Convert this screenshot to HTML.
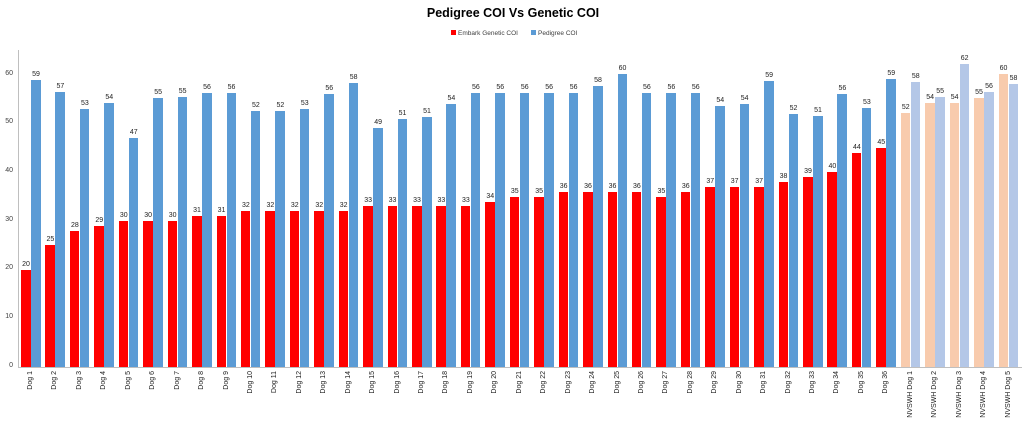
<!DOCTYPE html>
<html><head><meta charset="utf-8"><style>
body{margin:0;width:1024px;height:422px;background:#fff;font-family:"Liberation Sans",sans-serif;overflow:hidden;position:relative}
.t{position:absolute;left:0;width:1026px;top:6px;text-align:center;font-weight:bold;font-size:12.5px;color:#000}
.lg{position:absolute;top:30px;font-size:6.5px;color:#404040}
.lg b{display:inline-block;width:5px;height:5px;margin-right:2px;vertical-align:-0px}
.ax{position:absolute;left:18px;top:50px;width:1px;height:317px;background:#bfbfbf}
.xa{position:absolute;left:18px;top:367px;width:1004px;height:1px;background:#bfbfbf}
.yl{position:absolute;left:0;width:13px;text-align:right;font-size:7px;color:#404040}
.p{position:absolute;left:21px;top:0;height:367px;display:flex;align-items:flex-end}
.c{width:24.45px;height:367px;position:relative;display:flex;align-items:flex-end}
.r,.b{width:9.5px;position:relative}
.r{height:calc(var(--r)*4.867px);background:#f00;margin-right:.5px}
.b{height:calc(var(--b)*4.867px);background:#5b9bd5}
.n .r{background:#f8cbad}.n .b{background:#b4c7e7}
.r span,.b span{position:absolute;bottom:100%;left:-4px;width:18px;text-align:center;font-size:7px;color:#222;margin-bottom:2px}
.c i{position:absolute;top:371px;left:6px;font-style:normal;font-size:7px;color:#222;writing-mode:vertical-rl;transform:rotate(180deg);white-space:nowrap}
</style></head><body>
<div class="t">Pedigree COI Vs Genetic COI</div>
<div class="lg" style="left:451px"><b style="background:#f00"></b>Embark Genetic COI</div>
<div class="lg" style="left:531px"><b style="background:#5b9bd5"></b>Pedigree COI</div>
<div class="ax"></div><div class="xa"></div>
<div class="yl" style="top:362px">0</div>
<div class="yl" style="top:313px">10</div>
<div class="yl" style="top:264px">20</div>
<div class="yl" style="top:216px">30</div>
<div class="yl" style="top:167px">40</div>
<div class="yl" style="top:118px">50</div>
<div class="yl" style="top:70px">60</div>
<div class="p">
<div class="c" style="--r:20;--b:59"><div class="r"><span>20</span></div><div class="b"><span>59</span></div><i>Dog 1</i></div>
<div class="c" style="--r:25;--b:56.6"><div class="r"><span>25</span></div><div class="b"><span>57</span></div><i>Dog 2</i></div>
<div class="c" style="--r:28;--b:53"><div class="r"><span>28</span></div><div class="b"><span>53</span></div><i>Dog 3</i></div>
<div class="c" style="--r:29;--b:54.2"><div class="r"><span>29</span></div><div class="b"><span>54</span></div><i>Dog 4</i></div>
<div class="c" style="--r:30;--b:47"><div class="r"><span>30</span></div><div class="b"><span>47</span></div><i>Dog 5</i></div>
<div class="c" style="--r:30;--b:55.2"><div class="r"><span>30</span></div><div class="b"><span>55</span></div><i>Dog 6</i></div>
<div class="c" style="--r:30;--b:55.4"><div class="r"><span>30</span></div><div class="b"><span>55</span></div><i>Dog 7</i></div>
<div class="c" style="--r:31;--b:56.2"><div class="r"><span>31</span></div><div class="b"><span>56</span></div><i>Dog 8</i></div>
<div class="c" style="--r:31;--b:56.2"><div class="r"><span>31</span></div><div class="b"><span>56</span></div><i>Dog 9</i></div>
<div class="c" style="--r:32;--b:52.5"><div class="r"><span>32</span></div><div class="b"><span>52</span></div><i>Dog 10</i></div>
<div class="c" style="--r:32;--b:52.5"><div class="r"><span>32</span></div><div class="b"><span>52</span></div><i>Dog 11</i></div>
<div class="c" style="--r:32;--b:53"><div class="r"><span>32</span></div><div class="b"><span>53</span></div><i>Dog 12</i></div>
<div class="c" style="--r:32;--b:56"><div class="r"><span>32</span></div><div class="b"><span>56</span></div><i>Dog 13</i></div>
<div class="c" style="--r:32;--b:58.3"><div class="r"><span>32</span></div><div class="b"><span>58</span></div><i>Dog 14</i></div>
<div class="c" style="--r:33;--b:49.2"><div class="r"><span>33</span></div><div class="b"><span>49</span></div><i>Dog 15</i></div>
<div class="c" style="--r:33;--b:51"><div class="r"><span>33</span></div><div class="b"><span>51</span></div><i>Dog 16</i></div>
<div class="c" style="--r:33;--b:51.3"><div class="r"><span>33</span></div><div class="b"><span>51</span></div><i>Dog 17</i></div>
<div class="c" style="--r:33;--b:54"><div class="r"><span>33</span></div><div class="b"><span>54</span></div><i>Dog 18</i></div>
<div class="c" style="--r:33;--b:56.2"><div class="r"><span>33</span></div><div class="b"><span>56</span></div><i>Dog 19</i></div>
<div class="c" style="--r:34;--b:56.2"><div class="r"><span>34</span></div><div class="b"><span>56</span></div><i>Dog 20</i></div>
<div class="c" style="--r:35;--b:56.2"><div class="r"><span>35</span></div><div class="b"><span>56</span></div><i>Dog 21</i></div>
<div class="c" style="--r:35;--b:56.2"><div class="r"><span>35</span></div><div class="b"><span>56</span></div><i>Dog 22</i></div>
<div class="c" style="--r:36;--b:56.2"><div class="r"><span>36</span></div><div class="b"><span>56</span></div><i>Dog 23</i></div>
<div class="c" style="--r:36;--b:57.8"><div class="r"><span>36</span></div><div class="b"><span>58</span></div><i>Dog 24</i></div>
<div class="c" style="--r:36;--b:60.2"><div class="r"><span>36</span></div><div class="b"><span>60</span></div><i>Dog 25</i></div>
<div class="c" style="--r:36;--b:56.2"><div class="r"><span>36</span></div><div class="b"><span>56</span></div><i>Dog 26</i></div>
<div class="c" style="--r:35;--b:56.2"><div class="r"><span>35</span></div><div class="b"><span>56</span></div><i>Dog 27</i></div>
<div class="c" style="--r:36;--b:56.2"><div class="r"><span>36</span></div><div class="b"><span>56</span></div><i>Dog 28</i></div>
<div class="c" style="--r:37;--b:53.7"><div class="r"><span>37</span></div><div class="b"><span>54</span></div><i>Dog 29</i></div>
<div class="c" style="--r:37;--b:54"><div class="r"><span>37</span></div><div class="b"><span>54</span></div><i>Dog 30</i></div>
<div class="c" style="--r:37;--b:58.7"><div class="r"><span>37</span></div><div class="b"><span>59</span></div><i>Dog 31</i></div>
<div class="c" style="--r:38;--b:52"><div class="r"><span>38</span></div><div class="b"><span>52</span></div><i>Dog 32</i></div>
<div class="c" style="--r:39;--b:51.5"><div class="r"><span>39</span></div><div class="b"><span>51</span></div><i>Dog 33</i></div>
<div class="c" style="--r:40;--b:56"><div class="r"><span>40</span></div><div class="b"><span>56</span></div><i>Dog 34</i></div>
<div class="c" style="--r:44;--b:53.2"><div class="r"><span>44</span></div><div class="b"><span>53</span></div><i>Dog 35</i></div>
<div class="c" style="--r:45;--b:59.2"><div class="r"><span>45</span></div><div class="b"><span>59</span></div><i>Dog 36</i></div>
<div class="c n" style="--r:52.2;--b:58.5"><div class="r"><span>52</span></div><div class="b"><span>58</span></div><i>NVSWH Dog 1</i></div>
<div class="c n" style="--r:54.2;--b:55.5"><div class="r"><span>54</span></div><div class="b"><span>55</span></div><i>NVSWH Dog 2</i></div>
<div class="c n" style="--r:54.2;--b:62.2"><div class="r"><span>54</span></div><div class="b"><span>62</span></div><i>NVSWH Dog 3</i></div>
<div class="c n" style="--r:55.2;--b:56.5"><div class="r"><span>55</span></div><div class="b"><span>56</span></div><i>NVSWH Dog 4</i></div>
<div class="c n" style="--r:60.2;--b:58.1"><div class="r"><span>60</span></div><div class="b"><span>58</span></div><i>NVSWH Dog 5</i></div>
</div>
</body></html>
